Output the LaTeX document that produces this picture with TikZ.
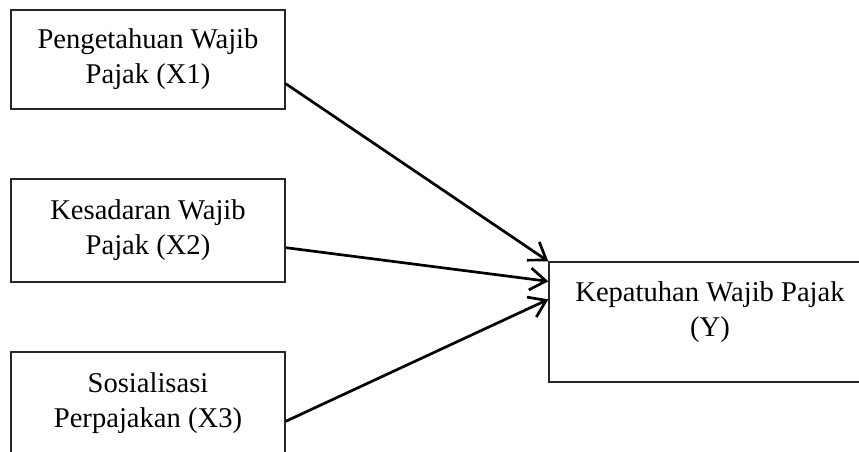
\documentclass[tikz,border=0pt]{standalone}
\usepackage{fontspec}
\setmainfont{Liberation Serif}
\usetikzlibrary{arrows.meta,calc}
\begin{document}
\begin{tikzpicture}[x=1pt,y=1pt,
  box/.style={draw=black!85,line width=1.3pt,inner sep=0pt,align=center,
    font=\fontsize{28.6}{35}\selectfont},
  txt/.style={inner sep=0pt,align=center,font=\fontsize{28.6}{35}\selectfont},
  conn/.style={line width=2.7pt,-{Straight Barb[length=16pt,width=22pt,line width=2.7pt]}}]
\useasboundingbox (0,0) rectangle (859,451);
\node[box,minimum width=274,minimum height=99] (x1) at (148,391.5) {Pengetahuan Wajib\\Pajak (X1)};
\node[box,minimum width=274,minimum height=103] (x2) at (148,220.5) {Kesadaran Wajib\\Pajak (X2)};
\node[box,minimum width=274,minimum height=102] (x3) at (148,48) {Sosialisasi\\Perpajakan (X3)};
\node[box,minimum width=340,minimum height=120] (y) at (719,129) {};
\node[txt] (ytext) at (710,139) {Kepatuhan Wajib Pajak\\(Y)};
\draw[conn] ([yshift=26]x1.south east) -- (y.north west);
\draw[conn] ([yshift=35]x2.south east) -- ([yshift=-20]y.north west);
\draw[conn] ([yshift=-70]x3.north east) -- ([yshift=-38]y.north west);
\end{tikzpicture}
\end{document}
